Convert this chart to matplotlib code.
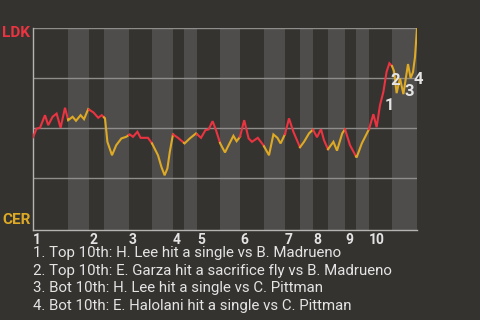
import numpy as np
import matplotlib
matplotlib.use("Agg")
import matplotlib.pyplot as plt

plt.rcParams['font.family'] = ['Roboto', 'DejaVu Sans']

# game progress (plays) and LDK win probability
plays = [0, 0.9, 1.75, 3.0, 3.8, 4.9, 5.9, 6.9, 8.0, 8.8,
         9.9, 10.75, 11.9, 12.75, 13.8, 15.1, 16.3, 17.2, 18.0, 18.6,
         19.75, 20.8, 22.1, 23.3, 24.2, 25.0, 26.1, 26.9, 28.75, 29.75,
         31.25, 32.1, 32.9, 33.6, 34.2, 35.0, 36.25, 37.9, 39.2, 40.75,
         42.0, 43.1, 43.9, 44.9, 45.75, 46.8, 48.0, 48.9, 50.1, 50.9,
         51.75, 52.8, 53.9, 54.75, 56.2, 57.6, 59.0, 60.1, 61.1, 61.9,
         63.0, 64.0, 65.1, 66.75, 67.75, 69.0, 70.0, 71.0, 72.0, 72.75,
         73.75, 75.1, 76.0, 77.3, 78.0, 79.25, 80.9, 82.2, 84.0, 85.1,
         85.9, 86.75, 87.6, 88.4, 89.1, 89.75, 90.25, 90.9, 91.75, 92.6,
         93.75, 94.4, 95.0, 95.5, 96.0]
wp = [0.455, 0.498, 0.502, 0.565, 0.515, 0.557, 0.573, 0.502, 0.602, 0.54,
      0.557, 0.537, 0.565, 0.545, 0.595, 0.579, 0.552, 0.565, 0.549, 0.432,
      0.365, 0.415, 0.449, 0.457, 0.469, 0.457, 0.482, 0.452, 0.452, 0.424,
      0.365, 0.307, 0.265, 0.299, 0.382, 0.469, 0.452, 0.424, 0.449, 0.474,
      0.452, 0.49, 0.494, 0.535, 0.49, 0.424, 0.379, 0.415, 0.462, 0.435,
      0.457, 0.54, 0.449, 0.432, 0.452, 0.415, 0.365, 0.469, 0.452, 0.424,
      0.47, 0.549, 0.482, 0.405, 0.432, 0.474, 0.493, 0.455, 0.495, 0.44,
      0.395, 0.432, 0.388, 0.474, 0.495, 0.415, 0.354, 0.424, 0.495, 0.57,
      0.505, 0.615, 0.682, 0.782, 0.824, 0.81, 0.785, 0.675, 0.749, 0.67,
      0.82, 0.75, 0.78, 0.855, 1.0]

# half inning boundaries (top, bottom, top, bottom ...), last = end of game
halves = [0, 8.75, 14, 17.75, 24, 29.75, 35, 37.75, 41, 46.75, 51.75,
          57.75, 63, 66.75, 70, 73.75, 78, 80.75, 84, 89.75, 96]
innings = ['1', '2', '3', '4', '5', '6', '7', '8', '9', '10']

events = ['Top 10th: H. Lee hit a single vs B. Madrueno',
          'Top 10th: E. Garza hit a sacrifice fly vs B. Madrueno',
          'Bot 10th: H. Lee hit a single vs C. Pittman',
          'Bot 10th: E. Halolani hit a single vs C. Pittman']
event_idx = [81, 85, 89, 92]
event_off = [(9, 0), (3, -14), (6, 3), (5, -7)]

bg = '#353330'
band = '#4e4d4b'
red = '#ea3441'
yellow = '#deaa25'
txt = '#e4e4e4'

fig = plt.figure(figsize=(4.8, 3.2), dpi=100, facecolor=bg)
ax = fig.add_axes([33/480, 90/320, 384/480, 202/320])
ax.set_facecolor(bg)

x = np.array(plays)
y = np.array(wp)
for i in range(len(halves) - 1):
    a, b = halves[i], halves[i + 1]
    if i % 2 == 1:
        ax.axvspan(a, b, color=band, lw=0, zorder=0)
    m = (x > a) & (x < b)
    xs = np.concatenate([[a], x[m], [b]])
    ys = np.concatenate([[np.interp(a, x, y)], y[m], [np.interp(b, x, y)]])
    ax.plot(xs, ys, color=red if i % 2 == 0 else yellow, lw=1.5,
            solid_joinstyle='miter', zorder=3)

for g in [0.25, 0.5, 0.75, 1.0]:
    ax.axhline(g, color='#8e8d8b', lw=1, zorder=1)

ax.set_xlim(0, 96)
ax.set_ylim(-0.008, 1)
for s in ['top', 'right']:
    ax.spines[s].set_visible(False)
for s in ['left', 'bottom']:
    ax.spines[s].set_color('#b5b4b2')
    ax.spines[s].set_linewidth(1)
ax.set_yticks([])
ax.set_xticks(halves[0:-1:2], labels=innings)
ax.tick_params(axis='x', length=0, pad=2, labelsize=10, labelcolor=txt)
for lab in ax.get_xticklabels():
    lab.set_ha('left')
    lab.set_fontweight('bold')

for n, (i, off) in enumerate(zip(event_idx, event_off)):
    ax.annotate(str(n + 1), (plays[i], wp[i]), xytext=off,
                textcoords='offset pixels', ha='center', va='center',
                fontsize=12, fontweight='bold', color=txt, zorder=4)

fig.text(2/480, 1 - 33/320, 'LDK', color=red, fontsize=11,
         fontweight='bold', va='center')
fig.text(2/480, 1 - 220/320, 'CER', color=yellow, fontsize=11,
         fontweight='bold', va='center')

for n, e in enumerate(events):
    fig.text(33/480, 1 - (253 + 17.7*n)/320, f'{n + 1}. {e}', color=txt,
             fontsize=10.8, va='center')

fig.savefig('out.png', dpi=100, facecolor=bg)
